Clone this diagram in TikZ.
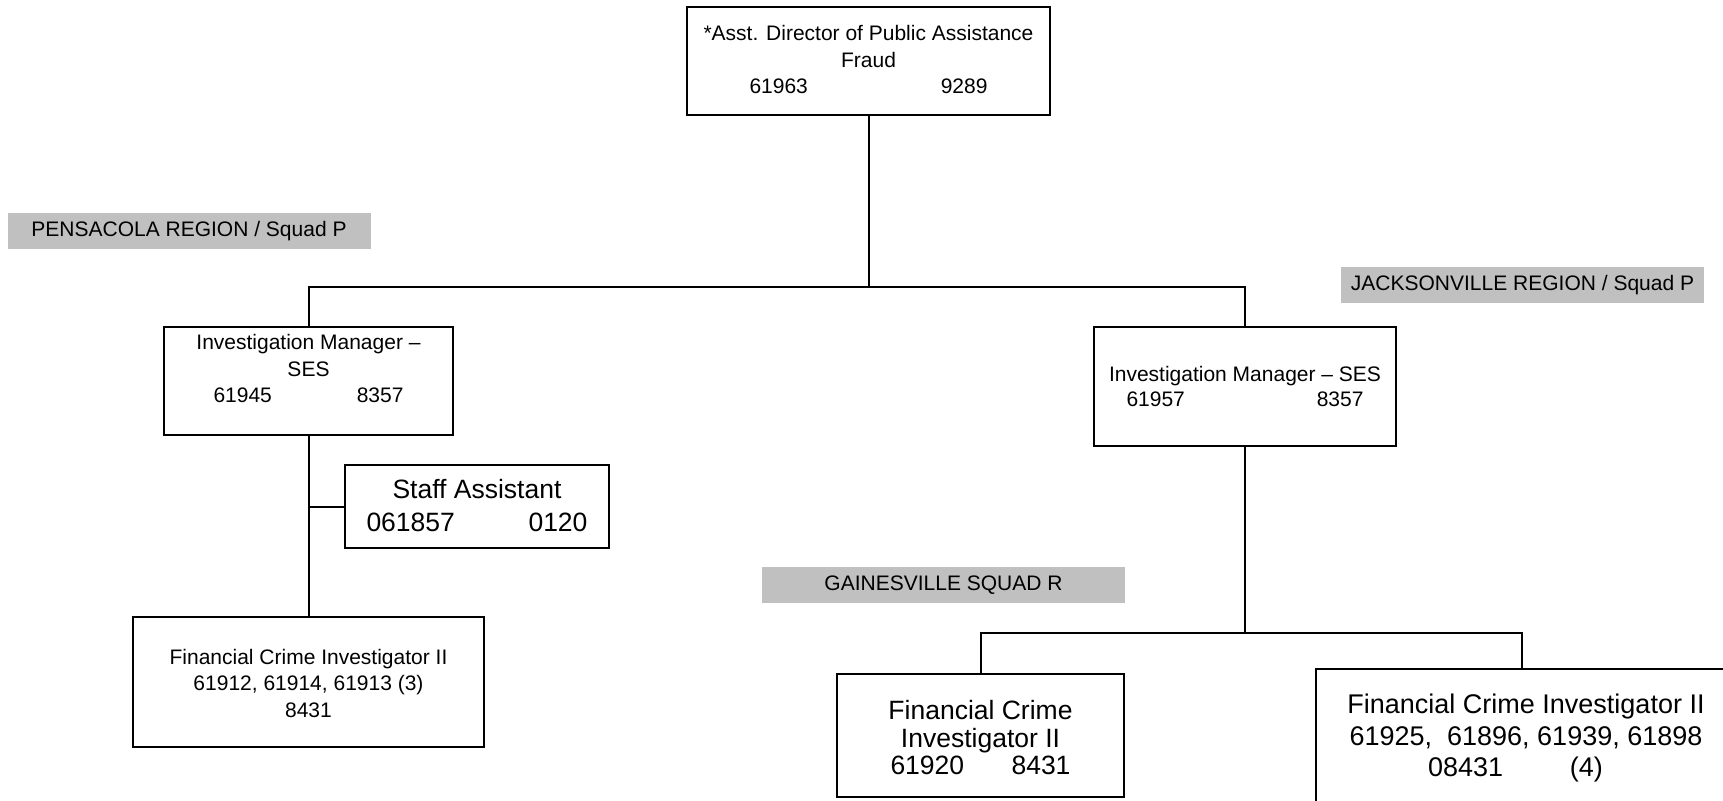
\documentclass[tikz,border=0pt]{standalone}
\usepackage{fontspec}
\setmainfont{Liberation Sans}
\definecolor{regiongray}{RGB}{192,192,192}
\begin{document}
\begin{tikzpicture}[x=1pt,y=-1pt,
  post/.style={draw, line width=2pt, inner sep=0pt, outer sep=0pt},
  region/.style={fill=regiongray, inner sep=0pt, minimum height=36pt,
    minimum width=363pt, text height=15.3pt, text depth=4.4pt,
    font=\fontsize{21}{26.5}\selectfont},
  small/.style={align=center, inner sep=0pt, font=\fontsize{21}{26.5}\selectfont},
  large/.style={align=center, inner sep=0pt},
  wire/.style={line width=2pt}]
\useasboundingbox (0,0) rectangle (1723,800);
\clip (0,0) rectangle (1723,800);

% region banners
\node[region] (pens) at (189,231) {PENSACOLA REGION / Squad P};
\node[region] (jack) at (1522.5,285) {JACKSONVILLE REGION / Squad P};
\node[region] (gain) at (943.5,585) {GAINESVILLE SQUAD R};

% position boxes
\node[post, minimum width=363pt, minimum height=108pt] (top)   at (868.5,61)   {};
\node[post, minimum width=289pt, minimum height=108pt] (lman)  at (308.5,381)  {};
\node[post, minimum width=264pt, minimum height=83pt]  (staff) at (477,506.5)  {};
\node[post, minimum width=351pt, minimum height=130pt] (lfci)  at (308.5,682)  {};
\node[post, minimum width=302pt, minimum height=119pt] (rman)  at (1245,386.5) {};
\node[post, minimum width=287pt, minimum height=123pt] (gfci)  at (980.5,735.5) {};
\node[post, minimum width=412pt, minimum height=136pt] (rfci)  at (1522,737)   {};

% box texts
\node[small] (topt) at (868.5,59.5)
  {*Asst. Director of Public Assistance\\Fraud\\\makebox[238pt]{61963\hfill 9289}};
\node[small] (lmant) at (308.5,368.9)
  {Investigation Manager --\\SES\\\makebox[190pt]{61945\hfill 8357}};
\node[small] (lfcit) at (308.5,683)
  {Financial Crime Investigator II\\61912, 61914, 61913 (3)\\8431};
\node[small, font=\fontsize{21}{25}\selectfont] (rmant) at (1245,386.9)
  {Investigation Manager -- SES\\\makebox[237pt]{61957\hfill 8357}};
\node[large, font=\fontsize{26.5}{33}\selectfont] (stafft) at (477,505.9)
  {Staff Assistant\\\makebox[221pt]{061857\hfill 0120}};
\node[large, font=\fontsize{26.5}{27.5}\selectfont] (gfcit) at (980.5,737.9)
  {Financial Crime\\Investigator II\\\makebox[180pt]{61920\hfill 8431}};
\node[large, font=\fontsize{27}{31.5}\selectfont] (rfcit) at (1526,738.5)
  {Financial Crime Investigator II\\61925,\ \ 61896, 61939, 61898\\
   \makebox[196pt][l]{\makebox[175pt]{08431\hfill(4)}}};

% reporting lines
\coordinate (bus)  at (0,287);
\coordinate (bus2) at (0,633);
\draw[wire] (top.south) -- (top.south |- bus);
\draw[wire] (lman.north) -- (lman.north |- bus) -- (rman.north |- bus) -- (rman.north);
\draw[wire] (lman.south) -- (lfci.north);
\draw[wire] (staff.west) -- (staff.west -| lman.south);
\draw[wire] (rman.south) -- (rman.south |- bus2);
\draw[wire] (gfci.north) -- (gfci.north |- bus2) -- (rfci.north |- bus2) -- (rfci.north);
\end{tikzpicture}
\end{document}
